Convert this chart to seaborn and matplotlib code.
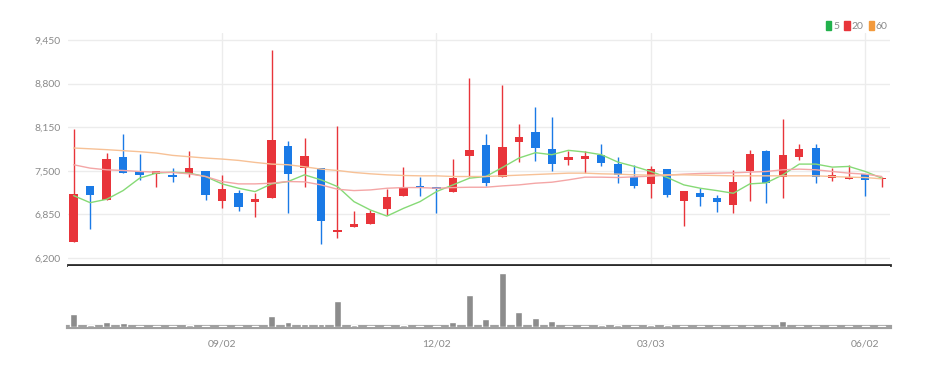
import matplotlib
matplotlib.use("Agg")
import matplotlib.pyplot as plt
from matplotlib.patches import Patch
import seaborn as sns
import pandas as pd
import numpy as np

# ---- data (weekly candles) ----
opens  = [6435, 7280, 7065, 7700, 7490, 7455, 7430, 7455, 7490, 7050,
          7175, 7040, 7100, 7875, 7540, 7540, 6585, 6665, 6700, 6930,
          7125, 7265, 7255, 7185, 7715, 7880, 7415, 7925, 8075, 7825,
          7655, 7675, 7730, 7600, 7415, 7300, 7525, 7050, 7175, 7090,
          6990, 7490, 7790, 7405, 7705, 7840, 7390, 7385, 7455, 7375]
highs  = [8125, 7280, 7765, 8050, 7755, 7490, 7540, 7790, 7490, 7430,
          7215, 7165, 9305, 7950, 7990, 7540, 8165, 6900, 6915, 7225,
          7555, 7405, 7255, 7675, 8880, 8050, 8780, 8205, 8450, 8300,
          7800, 7800, 7905, 7705, 7590, 7575, 7525, 7195, 7250, 7140,
          7505, 7805, 7805, 8265, 7900, 7905, 7540, 7590, 7455, 7415]
lows   = [6435, 6630, 7065, 7465, 7365, 7265, 7340, 7415, 7065, 6940,
          6900, 6815, 7100, 6865, 7265, 6415, 6505, 6655, 6700, 6840,
          7125, 7130, 6865, 7185, 7415, 7275, 7415, 7625, 7640, 7500,
          7590, 7465, 7565, 7315, 7240, 7090, 7115, 6680, 6980, 6880,
          6865, 7055, 7015, 7090, 7665, 7315, 7355, 7385, 7125, 7265]
closes = [7150, 7140, 7680, 7465, 7440, 7490, 7405, 7540, 7140, 7225,
          6965, 7075, 7965, 7450, 7715, 6755, 6615, 6700, 6875, 7115,
          7250, 7245, 7230, 7400, 7815, 7325, 7850, 8005, 7835, 7600,
          7705, 7725, 7615, 7440, 7280, 7530, 7140, 7195, 7105, 7030,
          7340, 7755, 7315, 7740, 7830, 7405, 7430, 7415, 7365, 7400]
ma5  = [7130, 7025, 7075, 7205, 7390, 7465, 7480, 7465, 7415, 7305,
        7240, 7190, 7305, 7340, 7440, 7365, 7265, 7040, 6915, 6825,
        6940, 7040, 7190, 7290, 7390, 7415, 7550, 7690, 7770, 7740,
        7805, 7780, 7740, 7630, 7565, 7490, 7400, 7290, 7240, 7205,
        7165, 7305, 7320, 7440, 7600, 7600, 7555, 7565, 7490, 7390]
ma20 = [7590, 7540, 7515, 7505, 7490, 7480, 7475, 7455, 7415, 7340,
        7305, 7305, 7315, 7340, 7335, 7290, 7225, 7205, 7215, 7240,
        7250, 7250, 7240, 7250, 7255, 7255, 7275, 7290, 7315, 7330,
        7365, 7405, 7405, 7400, 7410, 7420, 7435, 7450, 7460, 7465,
        7470, 7480, 7490, 7515, 7525, 7515, 7490, 7465, 7450, 7415]
ma60 = [7840, 7828, 7815, 7800, 7785, 7765, 7730, 7710, 7690, 7675,
        7655, 7625, 7600, 7590, 7560, 7525, 7505, 7475, 7455, 7440,
        7430, 7425, 7425, 7415, 7415, 7415, 7425, 7435, 7445, 7455,
        7465, 7465, 7455, 7450, 7440, 7435, 7440, 7440, 7435, 7430,
        7425, 7425, 7425, 7425, 7425, 7425, 7415, 7405, 7400, 7380]
volume_k = [117, 21, 42, 36, 5, 5, 5, 21, 5, 5,
            5, 5, 102, 42, 27, 27, 237, 21, 5, 5,
            21, 5, 5, 42, 291, 72, 495, 141, 81, 51,
            5, 5, 21, 21, 5, 21, 21, 5, 5, 5,
            5, 5, 5, 57, 5, 5, 5, 5, 5, 5]
price_ticks = [6200, 6850, 7500, 8150, 8800, 9450]
date_tick_idx = [9, 22, 35, 48]
date_tick_labels = ["09/02", "12/02", "03/03", "06/02"]
ma_labels = ["5", "20", "60"]

df = pd.DataFrame({"idx": np.arange(len(opens)), "open": opens, "high": highs,
                   "low": lows, "close": closes, "ma5": ma5, "ma20": ma20,
                   "ma60": ma60, "volume": volume_k})

sns.set_style("white")
plt.rcParams["font.family"] = ["Lato", "DejaVu Sans"]

UP, DOWN = "#e8343a", "#1a7ae6"
MA_COLORS = ["#86da76", "#f4a6a6", "#f7c196"]
GRID = "#ececec"
TXT = "#8a8a8a"

W, H = 933, 368
fig = plt.figure(figsize=(W / 100, H / 100), dpi=100)
left, right = 68 / W, 890 / W
ax = fig.add_axes([left, 1 - 265 / H, right - left, (265 - 33) / H])
axv = fig.add_axes([left, 1 - 327 / H, right - left, (327 - 266) / H], sharex=ax)

# price panel
upc = df["close"] >= df["open"]
colors = np.where(upc, UP, DOWN)
ax.vlines(df["idx"], df["low"], df["high"], colors=colors, lw=1.0, zorder=3)
body_lo = np.minimum(df["open"], df["close"])
body_h = np.maximum(np.abs(df["close"] - df["open"]), 22)
ax.bar(df["idx"], body_h, bottom=body_lo, width=0.5, color=colors, zorder=4,
       linewidth=0)
for col, c in zip(["ma5", "ma20", "ma60"], MA_COLORS):
    sns.lineplot(data=df, x="idx", y=col, ax=ax, color=c, lw=1.0, zorder=5)

upp = 3250 / 218.0
ax.set_ylim(6200 - 7 * upp, 9450 + 7 * upp)
ax.set_xlim(-0.34, 49.5)
ax.set_yticks(price_ticks)
ax.set_yticklabels([f"{v:,}" for v in price_ticks])
ax.set_xticks(date_tick_idx)
ax.tick_params(axis="x", length=0, labelbottom=False)
ax.tick_params(axis="y", length=0, labelsize=7.5, labelcolor=TXT, pad=5)
ax.grid(True, color=GRID, lw=1)
ax.set_xlabel("")
ax.set_ylabel("")
for s in ["top", "right", "left"]:
    ax.spines[s].set_visible(False)
ax.spines["bottom"].set_color("#2b2b2b")
ax.spines["bottom"].set_linewidth(2)

handles = [Patch(color=c) for c in ["#22b14c", "#e8343a", "#f39a3c"]]
fig.legend(handles, ma_labels, loc="upper right", ncol=3, frameon=False,
           bbox_to_anchor=(892 / W, 1 - 17 / H), fontsize=7.5,
           handlelength=0.5, handleheight=0.9, handletextpad=0.2,
           columnspacing=0.5, borderaxespad=0, labelcolor=TXT)

# volume panel
sns.barplot(data=df, x="idx", y="volume", ax=axv, color="#8c8c8c",
            width=0.42, saturation=1, native_scale=True, zorder=4)
axv.set_ylim(0, max(volume_k) * 1.13)
axv.set_xlim(-0.34, 49.5)
axv.set_xticks(date_tick_idx)
axv.set_xticklabels(date_tick_labels)
axv.set_yticks([])
axv.tick_params(axis="x", length=4, width=1, color="#444444",
                labelsize=7.5, labelcolor=TXT, pad=5)
axv.set_xlabel("")
axv.set_ylabel("")
for s in ["top", "right", "left"]:
    axv.spines[s].set_visible(False)
axv.spines["bottom"].set_color("#a0a0a0")
axv.spines["bottom"].set_linewidth(3)
axv.spines["bottom"].set_zorder(2)

fig.savefig("out.png", dpi=100)
